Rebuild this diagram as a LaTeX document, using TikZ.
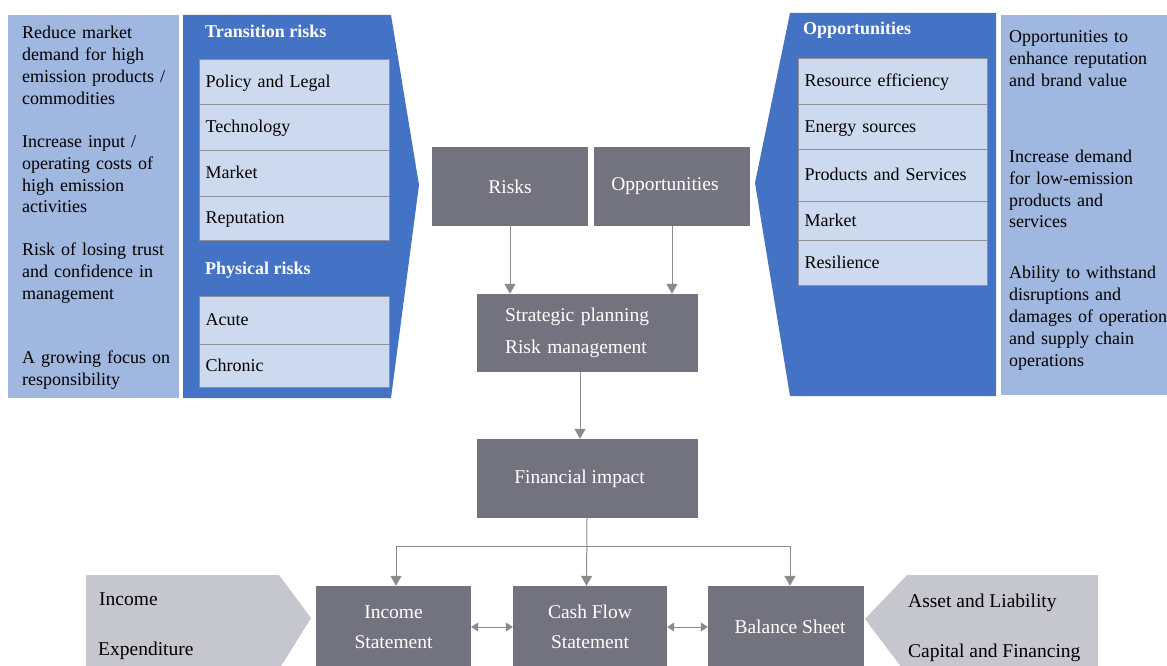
\documentclass[tikz,border=0pt]{standalone}
\usepackage{fontspec}
\setmainfont{Liberation Serif}
\usetikzlibrary{arrows.meta}
\definecolor{bluepanel}{HTML}{4472C4}
\definecolor{lightpanel}{HTML}{A0B7E0}
\definecolor{boxfill}{HTML}{CDD9EF}
\definecolor{boxline}{HTML}{8F8F96}
\definecolor{graybox}{HTML}{73737F}
\definecolor{lightgray}{HTML}{C5C6CE}
\definecolor{arrowgray}{HTML}{8A8A8A}
\tikzset{
  lbox/.style={draw=boxline, fill=boxfill, line width=1.2pt, minimum width=190,
    anchor=north west, text width=178, align=left, inner xsep=6, inner ysep=0,
    text height=13, text depth=3, font=\fontsize{18}{22}\selectfont},
  ptext/.style={anchor=base west, inner sep=0, text width=220, align=left,
    font=\fontsize{18}{22}\selectfont},
  ttext/.style={anchor=base west, inner sep=0, text=white,
    font=\fontsize{18}{22}\selectfont\bfseries},
  gbox/.style={fill=graybox, text=white, inner sep=0, align=center,
    font=\fontsize{19.5}{30}\selectfont},
  stext/.style={anchor=base west, inner sep=0, font=\fontsize{19.5}{24}\selectfont},
  arr/.style={draw=arrowgray, line width=1pt, -{Triangle[width=11pt,length=10pt]}},
  darr/.style={draw=arrowgray, line width=1pt,
    {Triangle[width=9pt,length=7pt]}-{Triangle[width=9pt,length=7pt]}}
}
\begin{document}
\begin{tikzpicture}[x=1pt,y=-1pt]
\useasboundingbox (0,0) rectangle (1167,666);
\clip (0,0) rectangle (1167,666);
% panels
\fill[lightpanel] (8,15) rectangle (179,398);
\fill[bluepanel] (183,15) -- (391,15) -- (419,185) -- (391,398) -- (183,398) -- cycle;
\fill[bluepanel] (790,13) -- (996,13) -- (996,396) -- (790,396) -- (755,183) -- cycle;
\fill[lightpanel] (1001,15) rectangle (1167,395);
\fill[lightgray] (86,575) -- (279,575) -- (311,618) -- (280,668) -- (86,668) -- cycle;
\fill[lightgray] (907,575) -- (1098,575) -- (1098,668) -- (902,668) -- (865,619) -- cycle;
% left texts
\node[ptext] (l1) at (22,39) {Reduce market\\demand for high\\emission products /\\commodities};
\node[ptext] (l2) at (22,147) {Increase input /\\operating costs of\\high emission\\activities};
\node[ptext] (l3) at (22,255) {Risk of losing trust\\and confidence in\\management};
\node[ptext] (l4) at (22,363) {A growing focus on\\responsibility};
% transition risks
\node[ttext] (tr) at (205,38) {Transition risks};
\node[lbox, minimum height=45] (pol) at (199,59) {Policy and Legal};
\node[lbox, minimum height=46] (tech) at (199,104) {Technology};
\node[lbox, minimum height=46] (mkt) at (199,150) {Market};
\node[lbox, minimum height=44] (rep) at (199,196) {Reputation};
\node[ttext] (pr) at (205,274) {Physical risks};
\node[lbox, minimum height=48] (acu) at (199,296) {Acute};
\node[lbox, minimum height=43] (chr) at (199,344) {Chronic};
% opportunities
\node[ttext] (op) at (803,35) {Opportunities};
\node[lbox, minimum height=46, minimum width=189, text width=177] (res) at (798,58) {Resource efficiency};
\node[lbox, minimum height=45, minimum width=189, text width=177] (ene) at (798,104) {Energy sources};
\node[lbox, minimum height=52, minimum width=189, text width=177] (pro) at (798,149) {Products and Services};
\node[lbox, minimum height=39, minimum width=189, text width=177] (rmk) at (798,201) {Market};
\node[lbox, minimum height=45, minimum width=189, text width=177] (resil) at (798,240) {Resilience};
% right texts
\node[ptext] (r1) at (1009,43) {Opportunities to\\enhance reputation\\and brand value};
\node[ptext] (r2) at (1009,162) {Increase demand\\for low-emission\\products and\\services};
\node[ptext] (r3) at (1009,278) {Ability to withstand\\disruptions and\\damages of operations\\and supply chain\\operations};
% centre
\node[gbox, minimum width=156, minimum height=79] (risks) at (510,186.5) {Risks};
\node[gbox, minimum width=156, minimum height=79] (opp) at (672,186.5) {\hspace*{-14pt}Opportunities};
\node[gbox, minimum width=221, minimum height=78, text width=165, inner xsep=28, align=left,
  font=\fontsize{19.5}{32}\selectfont] (strat) at (587.5,333) {Strategic planning\\Risk management};
\node[gbox, minimum width=221, minimum height=79] (fin) at (587.5,478.5) {\hspace*{-16pt}Financial impact};
% bottom
\node[gbox, minimum width=155, minimum height=82] (inc) at (393.5,627) {Income\\Statement};
\node[gbox, minimum width=154, minimum height=82] (cash) at (590,627) {Cash Flow\\Statement};
\node[gbox, minimum width=156, minimum height=82] (bal) at (786,627) {\hspace*{8pt}Balance Sheet};
\node[stext] (t1) at (99,605) {Income};
\node[stext] (t2) at (98,655) {Expenditure};
\node[stext] (t3) at (908,607) {Asset and Liability};
\node[stext] (t4) at (908,657) {Capital and Financing};
% connectors
\draw[arr] (risks.south) -- (risks.south |- strat.north);
\draw[arr] (opp.south) -- (opp.south |- strat.north);
\draw[arr] ([xshift=-7.5]strat.south) -- ([xshift=-7.5]fin.north);
\draw[arr] ([xshift=-0.5]fin.south) -- ([xshift=-3.5]cash.north);
\coordinate (jn) at (587,546);
\draw[arr] (jn) -| ([xshift=2.5]inc.north);
\draw[arr] (jn) -| ([xshift=4]bal.north);
\draw[darr] (inc.east) -- (cash.west);
\draw[darr] (cash.east) -- (bal.west);
\end{tikzpicture}
\end{document}
